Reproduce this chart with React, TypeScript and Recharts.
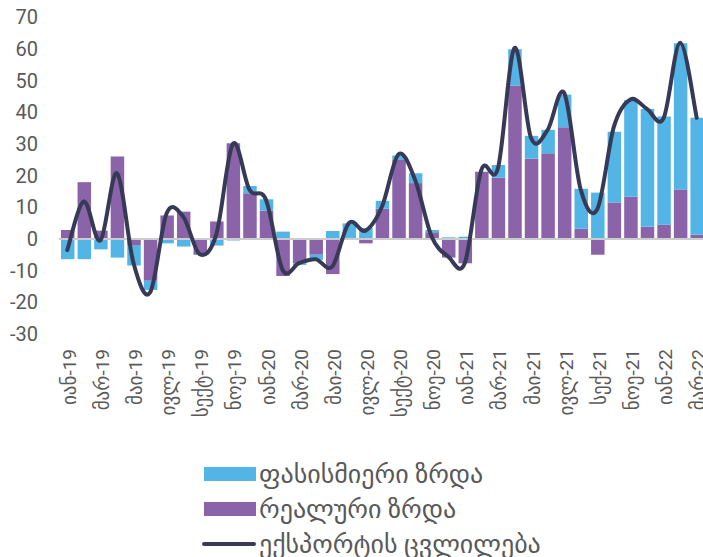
import React from "react";
import {
  ComposedChart,
  Bar,
  Line,
  XAxis,
  YAxis,
  ReferenceLine,
} from "recharts";

const months = [
  "იან-19", "თებ-19", "მარ-19", "აპრ-19", "მაი-19", "ივნ-19", "ივლ-19", "აგვ-19", "სექტ-19", "ოქტ-19", "ნოე-19", "დეკ-19",
  "იან-20", "თებ-20", "მარ-20", "აპრ-20", "მაი-20", "ივნ-20", "ივლ-20", "აგვ-20", "სექტ-20", "ოქტ-20", "ნოე-20", "დეკ-20",
  "იან-21", "თებ-21", "მარ-21", "აპრ-21", "მაი-21", "ივნ-21", "ივლ-21", "აგვ-21", "სექ-21", "ოქტ-21", "ნოე-21", "დეკ-21",
  "იან-22", "თებ-22", "მარ-22",
];

// ფასისმიერი ზრდა
const priceGrowth = [
  -6.4, -6.4, -3.3, -5.9, -6.5, -2.9, -1.4, -2.4, 0, -2.1, -0.5, 2.3,
  3.6, 2.3, -0.5, -1.6, 2.5, 4.6, 3.4, 2.5, 1.4, 3.1, 0.7, 0.5,
  0.7, 0, 4, 11.4, 7.2, 7.4, 10.3, 12.6, 14.6, 22.3, 30.5, 37.2,
  34.1, 46.1, 36.9,
];

// რეალური ზრდა
const realGrowth = [
  2.8, 17.9, 2.6, 26, -1.9, -13.2, 7.4, 8.6, -5, 5.5, 30.2, 14.4,
  8.9, -11.7, -7.7, -5, -11.1, 0.3, -1.4, 9.5, 24.9, 17.6, 2.1, -5.9,
  -7.7, 21.2, 19.3, 48.4, 25.3, 27, 35.2, 3.2, -5, 11.5, 13.3, 3.8,
  4.5, 15.6, 1.3,
];

// ექსპორტის ცვლილება
const exportChange = [
  -3.5, 11.8, -0.5, 20.7, -7.7, -16.9, 8.1, 7, -4.8, 1.5, 30, 15.5,
  12.3, -9.8, -7.6, -6.4, -8.7, 5, 2.6, 10.2, 26.7, 18.6, 0.7, -5.6,
  -7.6, 21.8, 22.3, 60.2, 31.8, 34.4, 46, 15.5, 9.4, 35.4, 44, 41,
  38.1, 61.9, 38.2,
];

const yTicks = [-30, -20, -10, 0, 10, 20, 30, 40, 50, 60, 70];

const BLUE = "#53b5e6";
const PURPLE = "#8b63a9";
const NAVY = "#363a57";
const TEXT = "#595959";
const FONT = "Roboto, 'DejaVu Sans', sans-serif";

const data = months.map((m, i) => ({
  month: m,
  price: priceGrowth[i],
  real: realGrowth[i],
  total: exportChange[i],
}));

// smoothed line like the spreadsheet one (catmull-rom through the points)
const smoothCurve = (context: any) => {
  let pts: number[][] = [];
  return {
    areaStart() {},
    areaEnd() {},
    lineStart() {
      pts = [];
    },
    point(x: number, y: number) {
      pts.push([+x, +y]);
    },
    lineEnd() {
      if (!pts.length) return;
      context.moveTo(pts[0][0], pts[0][1]);
      for (let i = 0; i < pts.length - 1; i++) {
        const p0 = pts[i - 1] || pts[i];
        const p1 = pts[i];
        const p2 = pts[i + 1];
        const p3 = pts[i + 2] || p2;
        context.bezierCurveTo(
          p1[0] + (p2[0] - p0[0]) / 6,
          p1[1] + (p2[1] - p0[1]) / 6,
          p2[0] - (p3[0] - p1[0]) / 6,
          p2[1] - (p3[1] - p1[1]) / 6,
          p2[0],
          p2[1]
        );
      }
    },
  };
};

const MonthTick = ({ x, y, payload }: any) => (
  <text
    x={x + 2}
    y={y}
    transform={`rotate(-90 ${x + 2} ${y})`}
    textAnchor="end"
    dominantBaseline="central"
    fill={TEXT}
    fontSize={19}
    fontFamily={FONT}
  >
    {payload.value}
  </text>
);

const legendItems = [
  { label: "ფასისმიერი ზრდა", color: BLUE, kind: "bar" },
  { label: "რეალური ზრდა", color: PURPLE, kind: "bar" },
  { label: "ექსპორტის ცვლილება", color: NAVY, kind: "line" },
];

const App = () => {
  return (
    <div
      style={{
        position: "absolute",
        left: 0,
        top: 0,
        width: 703,
        height: 557,
        overflow: "hidden",
        background: "#fff",
        fontFamily: FONT,
      }}
    >
      <ComposedChart
        width={705}
        height={440}
        data={data}
        stackOffset="sign"
        barSize={13.5}
        margin={{ top: 17, right: 0, left: 0, bottom: 0 }}
      >
        <XAxis
          dataKey="month"
          interval={1}
          axisLine={false}
          tickLine={false}
          tickMargin={9}
          height={106}
          tick={<MonthTick />}
        />
        <YAxis
          width={59}
          domain={[-30, 70]}
          ticks={yTicks}
          interval={0}
          axisLine={false}
          tickLine={false}
          tickMargin={15}
          tick={{ fill: TEXT, fontSize: 20, fontFamily: FONT }}
        />
        <Bar dataKey="real" stackId="a" fill={PURPLE} isAnimationActive={false} />
        <Bar dataKey="price" stackId="a" fill={BLUE} isAnimationActive={false} />
        <ReferenceLine y={0} stroke="#cccccc" strokeWidth={2} />
        <Line
          dataKey="total"
          type={smoothCurve as any}
          stroke={NAVY}
          strokeWidth={4}
          strokeLinecap="round"
          dot={false}
          activeDot={false}
          isAnimationActive={false}
        />
      </ComposedChart>
      <div style={{ position: "absolute", left: 202, top: 456 }}>
        {legendItems.map((it) => (
          <div
            key={it.label}
            style={{ display: "flex", alignItems: "center", height: 35 }}
          >
            {it.kind === "bar" ? (
              <div style={{ width: 52, height: 14, background: it.color, marginLeft: 2 }} />
            ) : (
              <div
                style={{
                  width: 54,
                  height: 4,
                  borderRadius: 2,
                  background: it.color,
                }}
              />
            )}
            <span style={{ marginLeft: 3, fontSize: 26, color: TEXT, whiteSpace: "nowrap" }}>
              {it.label}
            </span>
          </div>
        ))}
      </div>
    </div>
  );
};

export default App;
